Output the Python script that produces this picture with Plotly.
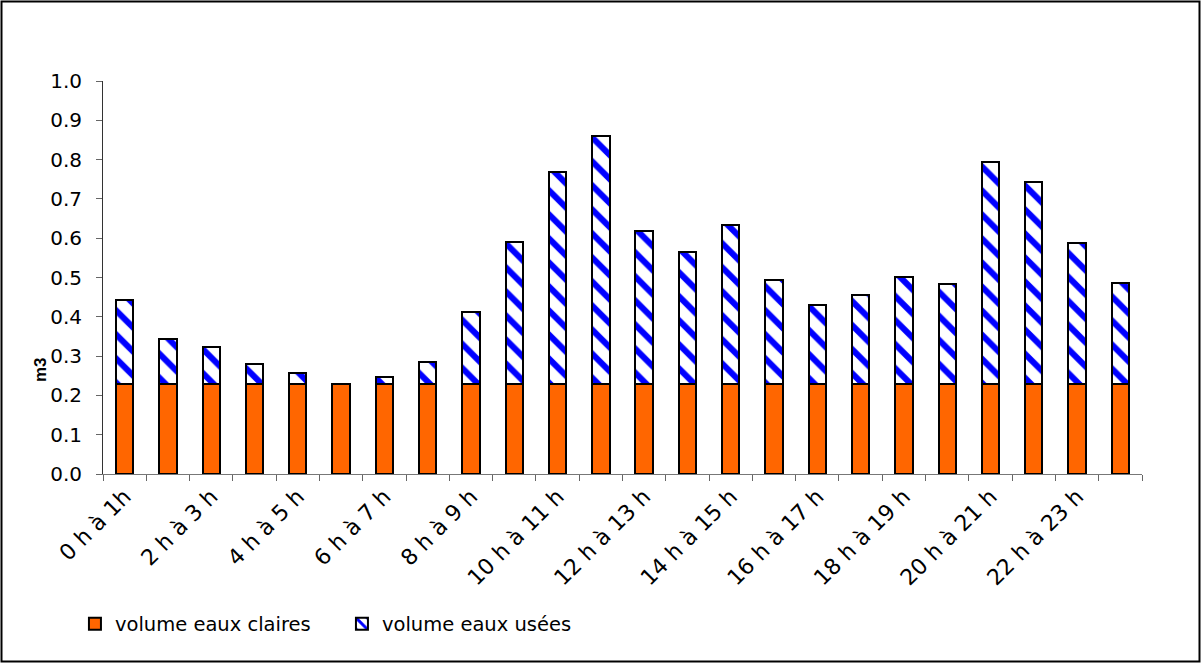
import plotly.graph_objects as go

categories = ["0 h à 1h", "1 h à 2 h", "2 h à 3 h", "3 h à 4 h", "4 h à 5 h", "5 h à 6 h",
              "6 h à 7 h", "7 h à 8 h", "8 h à 9 h", "9 h à 10 h", "10 h à 11 h", "11 h à 12 h",
              "12 h à 13 h", "13 h à 14 h", "14 h à 15 h", "15 h à 16 h", "16 h à 17 h", "17 h à 18 h",
              "18 h à 19 h", "19 h à 20 h", "20 h à 21 h", "21 h à 22 h", "22 h à 23 h", "23 h à 24 h"]
tick_labels = ["0 h à 1h", "", "2 h à 3 h", "", "4 h à 5 h", "", "6 h à 7 h", "", "8 h à 9 h", "",
               "10 h à 11 h", "", "12 h à 13 h", "", "14 h à 15 h", "", "16 h à 17 h", "",
               "18 h à 19 h", "", "20 h à 21 h", "", "22 h à 23 h", ""]
eaux_claires = [0.23, 0.23, 0.23, 0.23, 0.23, 0.23, 0.23, 0.23, 0.23, 0.23, 0.23, 0.23,
                0.23, 0.23, 0.23, 0.23, 0.23, 0.23, 0.23, 0.23, 0.23, 0.23, 0.23, 0.23]
eaux_usees = [0.214, 0.113, 0.093, 0.049, 0.028, 0.0, 0.018, 0.056, 0.182, 0.360, 0.538, 0.630,
              0.388, 0.336, 0.404, 0.264, 0.201, 0.226, 0.272, 0.253, 0.565, 0.514, 0.358, 0.256]
y_title = "m3"

FONT = "'DejaVu Sans', Arial, sans-serif"

fig = go.Figure()
fig.add_trace(go.Bar(
    x=categories, y=eaux_claires, name="volume eaux claires",
    marker=dict(color="#FF6600", line=dict(color="black", width=2)),
))
fig.add_trace(go.Bar(
    x=categories, y=eaux_usees, name="volume eaux usées",
    marker=dict(color="white", line=dict(color="black", width=2),
                pattern=dict(shape="\\", fgcolor="#0000FF", bgcolor="white",
                             size=17, solidity=0.36, fgopacity=1)),
))

W, H = 1202, 664
L, R, T, B = 103, 60, 81, 190
pw, ph = W - L - R, H - T - B

fig.update_layout(
    width=W, height=H,
    barmode="stack", bargap=0.6,
    plot_bgcolor="white", paper_bgcolor="white",
    margin=dict(l=L, r=R, t=T, b=B),
    font=dict(family=FONT, size=20, color="black"),
    showlegend=True,
    legend=dict(orientation="h", x=-0.027, xanchor="left", y=-0.382, yanchor="middle",
                font=dict(size=19.5), entrywidth=222, traceorder="normal"),
    xaxis=dict(
        type="category", tickmode="array", tickvals=categories, ticktext=tick_labels,
        tickangle=-45, ticks="outside", tickson="boundaries", ticklen=6,
        tickcolor="#666", showline=True, linecolor="#777", linewidth=1,
        showgrid=False, tickfont=dict(size=22),
    ),
    yaxis=dict(
        range=[0, 1.0], dtick=0.1, tickformat=".1f", ticks="outside", ticklen=6,
        tickcolor="#666", showline=True, linecolor="#333", linewidth=1,
        showgrid=False, zeroline=False, tickfont=dict(size=20), ticklabelstandoff=10,
    ),
    annotations=[dict(text="<b>" + y_title + "</b>", xref="paper", yref="paper",
                      x=(40 - L) / pw, y=(H - B - 370) / ph, xanchor="center", yanchor="middle",
                      textangle=-90, showarrow=False,
                      font=dict(family="Arial, 'Liberation Sans', sans-serif", size=17))],
    shapes=[dict(type="rect", xref="paper", yref="paper",
                 x0=(1.5 - L) / pw, x1=(1199.5 - L) / pw,
                 y0=(H - B - 661.5) / ph, y1=(H - B - 1.5) / ph,
                 line=dict(color="black", width=2), fillcolor="rgba(0,0,0,0)", layer="below")],
)

fig.write_html("out.html", config={"displayModeBar": False},
               post_script="document.body.style.margin='0';document.documentElement.style.overflow='hidden';")
